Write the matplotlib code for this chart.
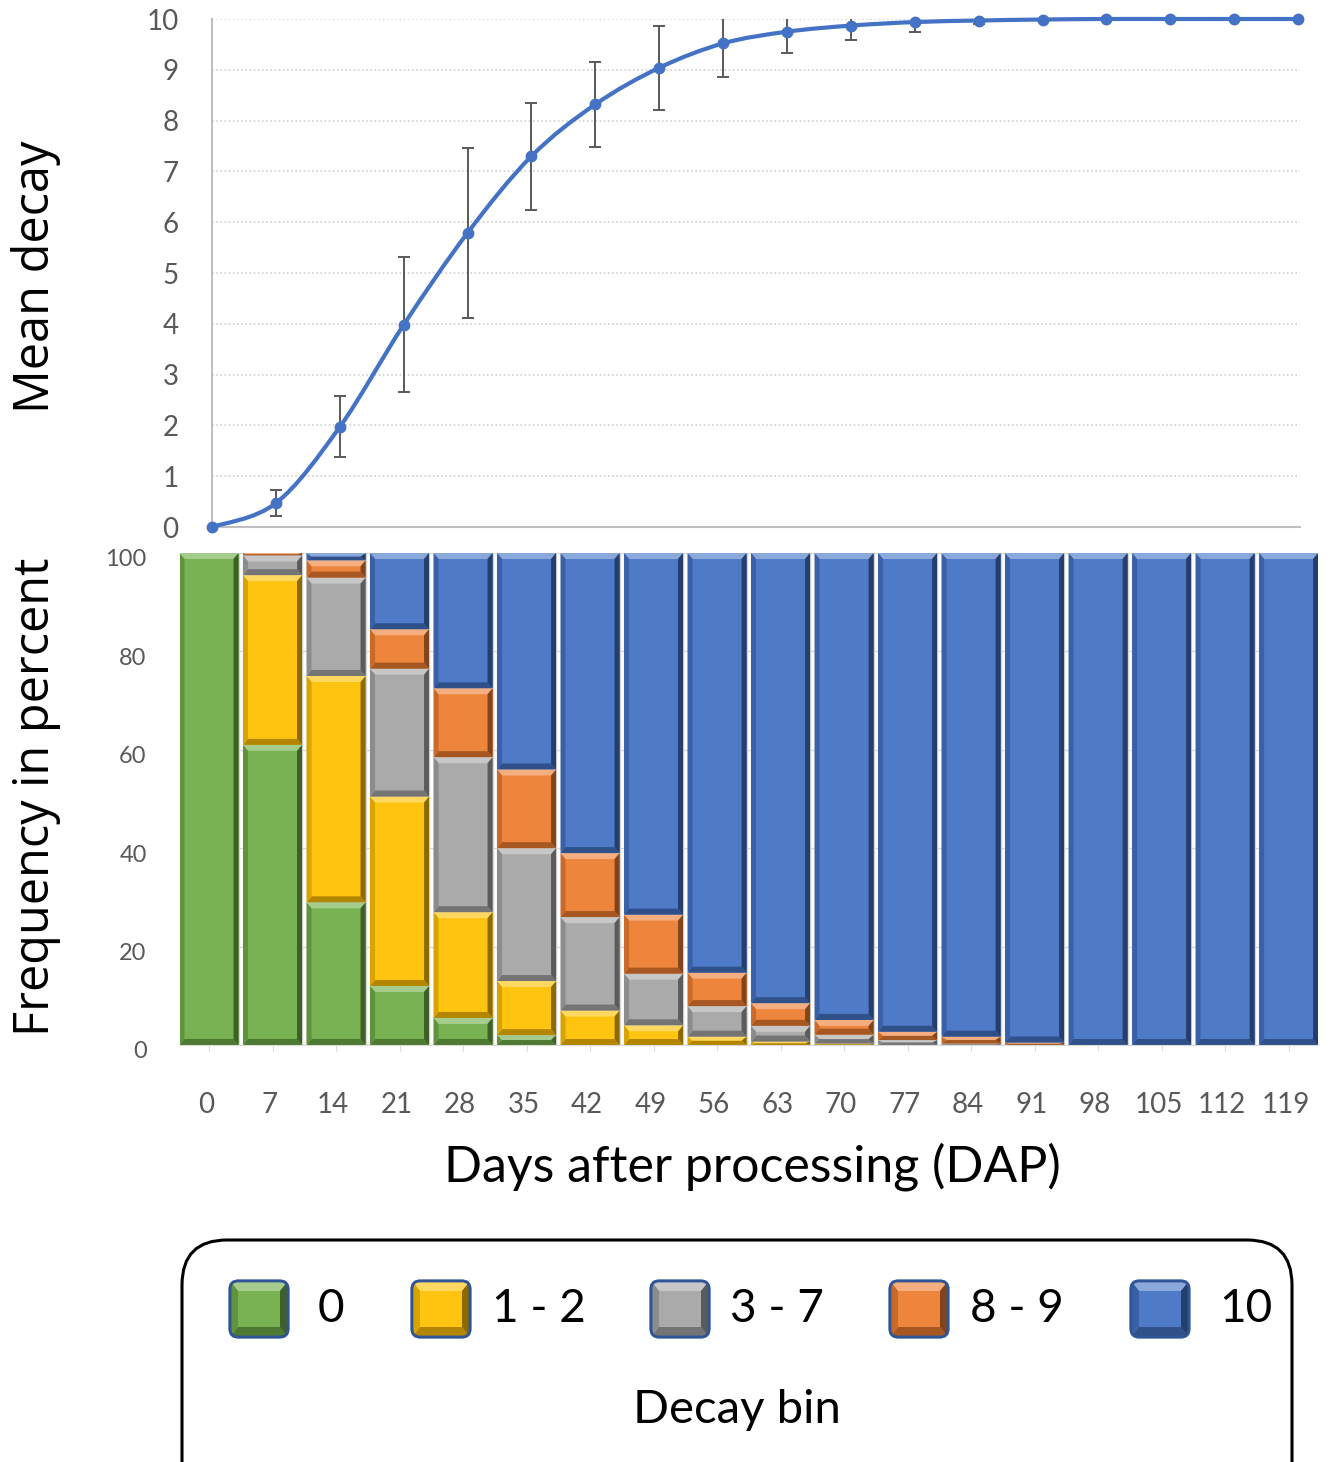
import numpy as np
import matplotlib
matplotlib.use("Agg")
import matplotlib.pyplot as plt
from matplotlib.path import Path
from matplotlib.patches import PathPatch, Polygon, FancyBboxPatch
from matplotlib.colors import to_rgb
import matplotlib.transforms as mtransforms

plt.rcParams["font.family"] = ["Lato", "DejaVu Sans"]

# ---- data -------------------------------------------------------------
days = [0, 7, 14, 21, 28, 35, 42, 49, 56, 63, 70, 77, 84, 91, 98, 105, 112, 119]
mean_decay = [0.0, 0.47, 1.97, 3.98, 5.79, 7.30, 8.32, 9.04, 9.52, 9.75,
              9.87, 9.94, 9.97, 9.99, 10.0, 10.0, 10.0, 10.0]
decay_sd = [0.0, 0.25, 0.60, 1.33, 1.67, 1.05, 0.84, 0.83, 0.67, 0.41,
            0.28, 0.20, 0.07, 0.02, 0.0, 0.0, 0.0, 0.0]

bin_labels = ["0", "1 - 2", "3 - 7", "8 - 9", "10"]
bin_0 = [100, 61, 29, 12, 5.5, 2, 0, 0, 0, 0, 0, 0, 0, 0, 0, 0, 0, 0]
bin_1_2 = [0, 34.5, 46, 38.5, 21.5, 11, 7, 4, 1.7, 0.7, 0.3, 0, 0, 0, 0, 0, 0, 0]
bin_3_7 = [0, 4, 20, 26, 31.5, 27, 19, 10.5, 6.2, 3.2, 1.8, 1.0, 0.3, 0, 0, 0, 0, 0]
bin_8_9 = [0, 0.5, 3.5, 8, 14, 16, 13, 12, 6.8, 4.6, 3, 1.7, 1.4, 0.5, 0, 0, 0, 0]
bin_10 = [0, 0, 1.5, 15.5, 27.5, 44, 61, 73.5, 85.3, 91.5, 94.9, 97.3, 98.3,
          99.5, 100, 100, 100, 100]
bin_series = [bin_0, bin_1_2, bin_3_7, bin_8_9, bin_10]
bin_colors = ["#70AD47", "#FFC000", "#A5A5A5", "#ED7D31", "#4472C4"]

LINE_BLUE = "#4472C4"
TICK_GRAY = "#595959"


def shade(color, f):
    """Lighten (f > 0) or darken (f < 0) a colour."""
    c = np.array(to_rgb(color))
    return tuple(c + (1 - c) * f) if f > 0 else tuple(c * (1 + f))


def bevel_faces(x0, y0, w, h, bx, by):
    x1, y1 = x0 + w, y0 + h
    by = min(by, h / 2.0)
    bx = min(bx, w / 2.0)
    return [
        ([(x0, y1), (x1, y1), (x1 - bx, y1 - by), (x0 + bx, y1 - by)], 0.38),
        ([(x0, y0), (x1, y0), (x1 - bx, y0 + by), (x0 + bx, y0 + by)], -0.30),
        ([(x0, y0), (x0 + bx, y0 + by), (x0 + bx, y1 - by), (x0, y1)], -0.15),
        ([(x1, y0), (x1 - bx, y0 + by), (x1 - bx, y1 - by), (x1, y1)], -0.45),
    ]


def smooth_path(x, y):
    """Cubic Bezier path through the points (Catmull-Rom style tangents)."""
    pts = np.column_stack([x, y]).astype(float)
    n = len(pts)
    verts = [pts[0]]
    codes = [Path.MOVETO]
    for i in range(n - 1):
        p0 = pts[i - 1] if i > 0 else pts[i]
        p1, p2 = pts[i], pts[i + 1]
        p3 = pts[i + 2] if i + 2 < n else pts[i + 1]
        verts += [p1 + (p2 - p0) / 6.0, p2 - (p3 - p1) / 6.0, p2]
        codes += [Path.CURVE4] * 3
    return Path(verts, codes)


W, H = 1331, 1462
fig = plt.figure(figsize=(W / 100, H / 100), dpi=100)

# ---- top panel: mean decay --------------------------------------------
ax1 = fig.add_axes([212 / W, 1 - 527 / H, (1300 - 212) / W, (527 - 19) / H])
ax1.set_xlim(0, 119.2)
ax1.set_ylim(0, 10)
ax1.set_yticks(range(0, 11))
ax1.set_xticks([])
ax1.grid(axis="y", color="#D0D0D0", linestyle=(0, (1, 1.5)), linewidth=1.2)
ax1.set_axisbelow(True)
for s in ["top", "right"]:
    ax1.spines[s].set_visible(False)
for s in ["left", "bottom"]:
    ax1.spines[s].set_color("#BFBFBF")
    ax1.spines[s].set_linewidth(1.5)
ax1.tick_params(axis="y", length=0, pad=24, labelsize=20, labelcolor=TICK_GRAY)

ax1.errorbar(days, mean_decay, yerr=decay_sd, fmt="none", ecolor=TICK_GRAY,
             elinewidth=1.4, capsize=4.3, capthick=1.4, zorder=3)
ax1.add_patch(PathPatch(smooth_path(days, mean_decay), facecolor="none",
                        edgecolor=LINE_BLUE, linewidth=3.0, zorder=4,
                        clip_on=False, capstyle="round"))
ax1.plot(days, mean_decay, "o", color=LINE_BLUE, markersize=7.5, zorder=5,
         clip_on=False)

# ---- bottom panel: stacked frequencies ---------------------------------
ax2 = fig.add_axes([180 / W, 1 - 1045 / H, 1138 / W, (1045 - 553) / H])
xpos = np.arange(len(days))
ax2.set_xlim(-0.457, 17.463)
ax2.set_ylim(0, 100)
ax2.set_yticks(range(0, 101, 20))
ax2.set_xticks(xpos)
ax2.set_xticklabels([str(d) for d in days])
ax2.grid(axis="y", color="#D9D9D9", linewidth=1.0)
ax2.set_axisbelow(True)
for s in ["top", "right", "left"]:
    ax2.spines[s].set_visible(False)
ax2.spines["bottom"].set_color("#D9D9D9")
ax2.tick_params(axis="y", length=0, pad=24, labelsize=17, labelcolor=TICK_GRAY)
ax2.tick_params(axis="x", length=4, color="#D9D9D9", pad=30, labelsize=20,
                labelcolor=TICK_GRAY)

bx = 5 / 63.3           # bevel width in category units
by = 6 / 4.92           # bevel height in percent units
bottom = np.zeros(len(days))
for vals, col in zip(bin_series, bin_colors):
    vals = np.asarray(vals, dtype=float)
    face = shade(col, 0.06)
    bars = ax2.bar(xpos, vals, width=0.93, bottom=bottom, color=face,
                   edgecolor="#D6D6D6",
                   linewidth=[1.0 if v > 0 else 0 for v in vals], zorder=2)
    for rect in bars.patches:
        h = rect.get_height()
        if h <= 0:
            continue
        for pts, f in bevel_faces(rect.get_x(), rect.get_y(), rect.get_width(),
                                  h, bx, by):
            ax2.add_patch(Polygon(pts, closed=True, facecolor=shade(col, f),
                                  edgecolor="none", zorder=2.5))
    bottom += vals

# nudge tick labels as in the layout
for lbl in ax2.get_xticklabels():
    lbl.set_transform(lbl.get_transform() +
                      mtransforms.ScaledTranslation(-0.03, 0, fig.dpi_scale_trans))
for lbl in ax2.get_yticklabels():
    lbl.set_transform(lbl.get_transform() +
                      mtransforms.ScaledTranslation(0, -0.05, fig.dpi_scale_trans))

# ---- axis titles ---------------------------------------------------------
side_font = ["Open Sans", "DejaVu Sans"]
fig.text(36 / W, 1 - 277 / H, "Mean decay", rotation=90, ha="center",
         va="center", fontsize=35, family=side_font)
fig.text(36 / W, 1 - 797 / H, "Frequency in percent", rotation=90,
         ha="center", va="center", fontsize=35, family=side_font)
fig.text(752 / W, 1 - 1167 / H, "Days after processing (DAP)", ha="center",
         va="center", fontsize=36)

# ---- legend --------------------------------------------------------------
inch = fig.dpi_scale_trans
fig.add_artist(FancyBboxPatch((1.82, -0.6), 11.10, 2.82,
                              boxstyle="round,pad=0,rounding_size=0.45",
                              facecolor="white", edgecolor="black",
                              linewidth=2.2, transform=inch, zorder=1))
sw_left = [2.30, 4.12, 6.51, 8.90, 11.31]
txt_left = [3.18, 4.92, 7.30, 9.70, 12.19]
sw_w, sw_h, sw_y = 0.58, 0.56, 1.25
for lab, col, sx, tx in zip(bin_labels, bin_colors, sw_left, txt_left):
    sw = FancyBboxPatch((sx, sw_y), sw_w, sw_h,
                        boxstyle="round,pad=0,rounding_size=0.08",
                        facecolor=shade(col, 0.06), edgecolor="#2F5597",
                        linewidth=2.0, transform=inch, zorder=2)
    fig.add_artist(sw)
    for pts, f in bevel_faces(sx, sw_y, sw_w, sw_h, 0.08, 0.1):
        p = Polygon(pts, closed=True, facecolor=shade(col, f), edgecolor="none",
                    transform=inch, zorder=2.5)
        p.set_clip_path(sw)
        fig.add_artist(p)
    edge = FancyBboxPatch((sx, sw_y), sw_w, sw_h,
                          boxstyle="round,pad=0,rounding_size=0.08",
                          facecolor="none", edgecolor="#2F5597", linewidth=2.0,
                          transform=inch, zorder=3)
    fig.add_artist(edge)
    fig.text(tx, sw_y + sw_h / 2, lab, ha="left", va="center", fontsize=33,
             transform=inch)
fig.text(7.37, 0.52, "Decay bin", ha="center", va="center", fontsize=34,
         transform=inch)

fig.savefig("out.png", dpi=100)
